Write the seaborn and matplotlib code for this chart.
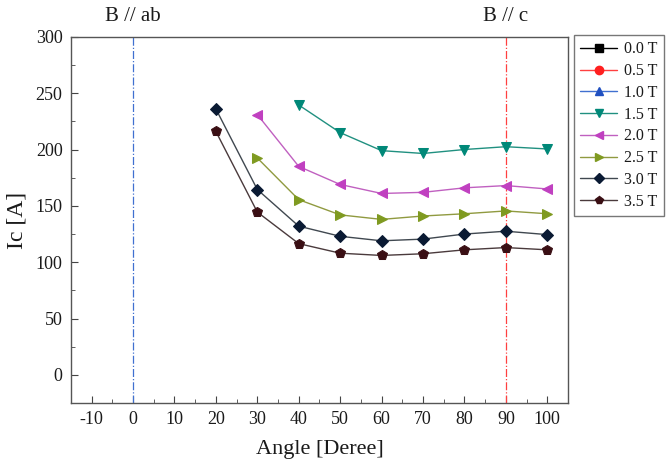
import numpy as np
import pandas as pd
import seaborn as sns
from matplotlib import pyplot as plt

# === DATA ===
fields = ['0.0 T', '0.5 T', '1.0 T', '1.5 T', '2.0 T', '2.5 T', '3.0 T', '3.5 T']

angle_15 = [40, 50, 60, 70, 80, 90, 100]
ic_15 = [239.5, 215, 199, 196.5, 200, 202.5, 200.5]

angle_20 = [30, 40, 50, 60, 70, 80, 90, 100]
ic_20 = [231, 185, 169, 161, 162, 166, 168, 165]

angle_25 = [30, 40, 50, 60, 70, 80, 90, 100]
ic_25 = [192.5, 155.5, 142, 138, 141, 143, 145.5, 143]

angle_30 = [20, 30, 40, 50, 60, 70, 80, 90, 100]
ic_30 = [236, 164.5, 132, 123, 119, 120.5, 125, 127.5, 124.5]

angle_35 = [20, 30, 40, 50, 60, 70, 80, 90, 100]
ic_35 = [216, 144.5, 116.5, 108, 106, 107.5, 111, 113, 111]

# (marker, marker colour, line colour)
styles = {
    '0.0 T': ('s', '#000000', '#000000'),
    '0.5 T': ('o', '#ff2020', '#ff4040'),
    '1.0 T': ('^', '#2050c0', '#4070d0'),
    '1.5 T': ('v', '#008878', '#209080'),
    '2.0 T': ('<', '#c040c0', '#c060c0'),
    '2.5 T': ('>', '#7f9a20', '#909a40'),
    '3.0 T': ('D', '#0a1a33', '#404850'),
    '3.5 T': ('p', '#3a0f14', '#4a3a3c'),
}

rows = []
for name, xs, ys in [('1.5 T', angle_15, ic_15), ('2.0 T', angle_20, ic_20),
                     ('2.5 T', angle_25, ic_25), ('3.0 T', angle_30, ic_30),
                     ('3.5 T', angle_35, ic_35)]:
    for a, v in zip(xs, ys):
        rows.append({'field': name, 'angle': a, 'ic': v})
data = pd.DataFrame(rows)

# === PLOT ===
sns.set_style('ticks')
plt.rcParams['font.family'] = ['Liberation Serif', 'DejaVu Serif']
plt.rcParams['axes.unicode_minus'] = False

fig = plt.figure(figsize=(6.69, 4.72), dpi=100)
ax = fig.add_axes([0.106, 0.146, 0.743, 0.776])

ax.axvline(0, color='#4070d0', lw=0.9, ls='-.')
ax.axvline(90, color='#ff4040', lw=0.9, ls='-.')

handles = []
for name in fields:
    mk, mc, lc = styles[name]
    sub = data[data.field == name]
    if len(sub):
        sns.lineplot(data=sub, x='angle', y='ic', ax=ax, color=lc, lw=1.0,
                     marker=mk, markersize=7 if mk != 'D' else 6,
                     markerfacecolor=mc, markeredgecolor=mc, legend=False)
    h, = ax.plot([], [], color=lc, lw=1.0, marker=mk,
                 markersize=6 if mk != 'D' else 5,
                 markerfacecolor=mc, markeredgecolor=mc, label=name)
    handles.append(h)

ax.set_xlim(-15, 105)
ax.set_ylim(-25, 300)
ax.set_xticks(np.arange(-10, 101, 10))
ax.set_xticks(np.arange(-15, 106, 5), minor=True)
ax.set_yticks(np.arange(0, 301, 50))
ax.set_yticks(np.arange(-25, 301, 25), minor=True)
ax.tick_params(direction='in', which='both', labelsize=13, color='#444444',
               labelcolor='#1a1a1a')
ax.tick_params(which='major', length=5, pad=6)
ax.tick_params(which='minor', length=3)
for s in ax.spines.values():
    s.set_color('#555555')
    s.set_linewidth(1.0)

ax.set_xlabel('Angle [Deree]', fontsize=16, labelpad=8, color='#1a1a1a')
ax.set_ylabel('Ic [A]', fontsize=17, labelpad=6, color='#1a1a1a')

ax.text(0, 310, 'B // ab', ha='center', va='bottom', fontsize=15, color='#1a1a1a')
ax.text(90, 310, 'B // c', ha='center', va='bottom', fontsize=15, color='#1a1a1a')

leg = ax.legend(handles=handles, loc='upper left', bbox_to_anchor=(1.012, 1.005),
                fontsize=11.5, frameon=True, fancybox=False, edgecolor='#555555',
                handlelength=2.3, labelspacing=0.36, borderpad=0.4,
                handletextpad=0.45, borderaxespad=0)
leg.get_frame().set_linewidth(1.0)
for t in leg.get_texts():
    t.set_color('#1a1a1a')

fig.savefig('out.png', dpi=100)
